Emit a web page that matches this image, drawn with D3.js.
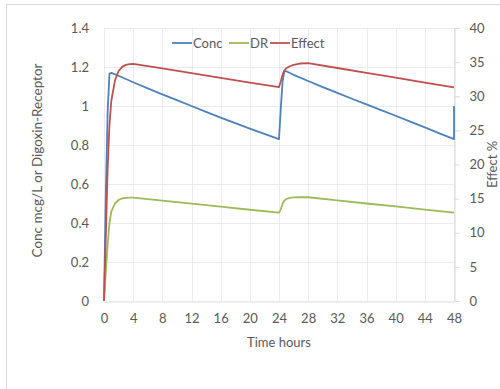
<!DOCTYPE html>
<html><head><meta charset="utf-8">
<script src="https://cdn.jsdelivr.net/npm/d3@7"></script>
<style>
html,body{margin:0;padding:0;background:#fff;}
svg text{font-family:Lato,"Open Sans",sans-serif;fill:#595959;}
</style></head>
<body><svg id="c" width="500" height="389"></svg>
<script>
// ---- data ----
const concT = [0,0.25,0.5,0.75,1,2,4,6,8,10,12,14,16,18,20,22,24,24.25,24.5,24.75,25,26,28,30,32,34,36,38,40,42,44,46,48,48];
const concV = [0,0.55,0.97,1.165,1.17,1.155,1.122,1.09,1.06,1.03,1.0,0.97,0.94,0.912,0.884,0.857,0.83,0.99,1.13,1.18,1.178,1.16,1.128,1.097,1.067,1.037,1.008,0.979,0.95,0.92,0.89,0.86,0.83,1.0];
const drT = [0,0.25,0.5,0.75,1,1.5,2,2.5,3,3.5,4,8,12,16,20,24,24.25,24.5,24.75,25,25.5,26,27,28,32,36,40,44,48];
const drV = [0,0.15,0.29,0.4,0.458,0.5,0.518,0.526,0.529,0.53,0.53,0.515,0.499,0.484,0.468,0.453,0.47,0.5,0.515,0.523,0.529,0.531,0.532,0.532,0.516,0.5,0.485,0.469,0.453];
const effT = [0,0.25,0.5,0.75,1,1.5,2,2.5,3,3.5,4,8,12,16,20,24,24.25,24.5,24.75,25,25.5,26,27,28,32,36,40,44,48];
const effV = [0,9.5,19.5,25.8,29.3,32.3,33.7,34.3,34.6,34.7,34.75,34.1,33.4,32.7,32.0,31.35,32.2,33.2,33.8,34.1,34.4,34.6,34.8,34.85,34.14,33.43,32.72,32.01,31.3];
const xTicks = [0,4,8,12,16,20,24,28,32,36,40,44,48];
const yLeftTicks = [0,0.2,0.4,0.6,0.8,1,1.2,1.4];
const yRightTicks = [0,5,10,15,20,25,30,35,40];
const seriesNames = ["Conc","DR","Effect"];
const colors = ["#4F81BD","#9BBB59","#C0504D"];

// ---- layout ----
const svg = d3.select("#c");
const L = 104, R = 454, T = 28, B = 301;
const x = d3.scaleLinear().domain([0,48]).range([L,R]);
const yL = d3.scaleLinear().domain([0,1.4]).range([B,T]);
const yR = d3.scaleLinear().domain([0,40]).range([B,T]);

svg.append("rect").attr("x",6.5).attr("y",4.5).attr("width",600).attr("height",600)
  .attr("fill","#fff").attr("stroke","#d9d9d9");

// gridlines
svg.append("g").selectAll("line").data(xTicks).join("line")
  .attr("x1",d=>Math.round(x(d))+0.5).attr("x2",d=>Math.round(x(d))+0.5)
  .attr("y1",T).attr("y2",B).attr("stroke","#ebebeb");
svg.append("g").selectAll("line").data(yLeftTicks.slice(1)).join("line")
  .attr("x1",L).attr("x2",R).attr("y1",d=>Math.round(yL(d))+0.5).attr("y2",d=>Math.round(yL(d))+0.5)
  .attr("stroke","#ebebeb");

// bottom axis
const gx = svg.append("g").attr("transform",`translate(0,${B+0.5})`)
  .call(d3.axisBottom(x).tickValues(xTicks).tickSize(0).tickPadding(12).tickFormat(d3.format("d")));
gx.select(".domain").attr("stroke","#d9d9d9");
gx.selectAll("text").attr("font-size","13px").attr("fill","#595959").style("font-family","Lato");

// left axis
const gl = svg.append("g").attr("transform",`translate(${L},0)`)
  .call(d3.axisLeft(yL).tickValues(yLeftTicks).tickSize(0).tickPadding(15).tickFormat(d=>d3.format("")(+d.toFixed(1))));
gl.select(".domain").remove();
gl.selectAll("text").attr("font-size","13px").attr("fill","#595959").style("font-family","Lato");

// right axis
const gr = svg.append("g").attr("transform",`translate(${R+0.5},0)`)
  .call(d3.axisRight(yR).tickValues(yRightTicks).tickSizeInner(5).tickSizeOuter(0).tickPadding(10));
gr.select(".domain").attr("stroke","#d9d9d9");
gr.selectAll("line").attr("stroke","#d9d9d9");
gr.selectAll("text").attr("font-size","13px").attr("fill","#595959").style("font-family","Lato");

// axis titles
svg.append("text").attr("x",(L+R)/2).attr("y",347).attr("text-anchor","middle")
  .attr("font-size","13px").text("Time hours");
svg.append("text").attr("transform",`translate(42,${(T+B)/2-4}) rotate(-90)`).attr("text-anchor","middle")
  .attr("font-size","13.5px").text("Conc mcg/L or Digoxin-Receptor");
svg.append("text").attr("transform",`translate(497,${(T+B)/2}) rotate(-90)`).attr("text-anchor","middle")
  .attr("font-size","13px").text("Effect %");

// lines
const line = (yScale) => d3.line().x(d=>x(d[0])).y(d=>yScale(d[1]));
const series = [
  {t:concT, v:concV, s:yL},
  {t:drT, v:drV, s:yL},
  {t:effT, v:effV, s:yR}
];
series.forEach((sr,i)=>{
  const pts = sr.t.map((t,j)=>[t,sr.v[j]]);
  svg.append("path").datum(pts).attr("d",line(sr.s))
    .attr("fill","none").attr("stroke",colors[i]).attr("stroke-width",1.8).attr("stroke-linejoin","round");
});

// legend
const legX = [172,229,270];
const lg = svg.append("g");
seriesNames.forEach((n,i)=>{
  lg.append("line").attr("x1",legX[i]).attr("x2",legX[i]+20).attr("y1",43).attr("y2",43)
    .attr("stroke",colors[i]).attr("stroke-width",1.8);
  lg.append("text").attr("x",legX[i]+21).attr("y",47.5).attr("font-size","13px").text(n);
});
</script></body></html>
